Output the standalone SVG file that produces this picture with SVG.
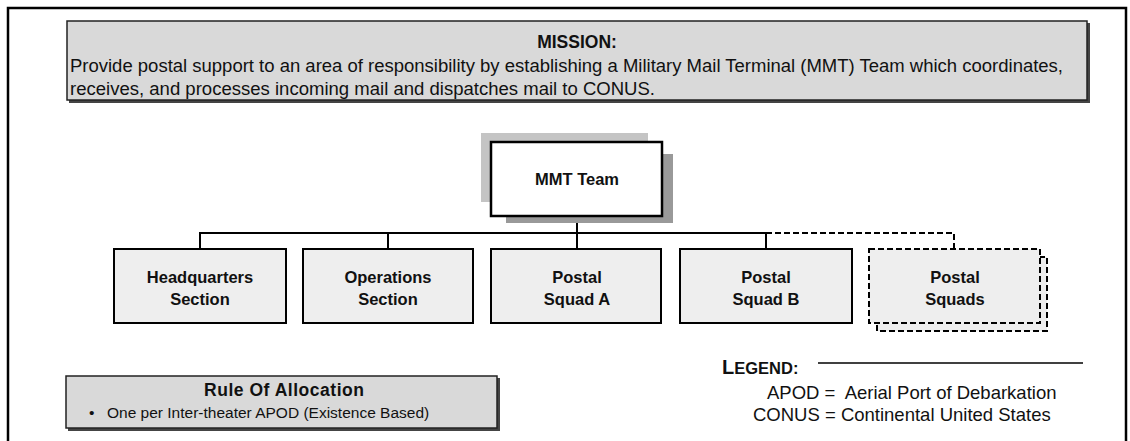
<svg xmlns="http://www.w3.org/2000/svg" width="1130" height="441" viewBox="0 0 1130 441">
<style>
.frame{fill:none;stroke:#000;stroke-width:2.5}
.box{fill:#eeeeee;stroke:#000;stroke-width:2}
.dbox{fill:#eeeeee;stroke:#000;stroke-width:2;stroke-dasharray:6,3}
.panel{fill:#d9d9d9;stroke:#222;stroke-width:1.5}
.shadow{fill:#444}
.lbl{font-family:"Liberation Sans",Arial,sans-serif;font-weight:bold;fill:#111;text-anchor:middle;font-size:16.5px}
.txt{font-family:"Liberation Sans",Arial,sans-serif;fill:#111}
.line{stroke:#000;stroke-width:2;fill:none}
.dline{stroke:#000;stroke-width:2;fill:none;stroke-dasharray:6,3}
</style>
<rect width="1130" height="441" fill="#fff"/>
<rect class="frame" x="8" y="8" width="1118" height="460"/>

<g id="mission">
  <rect class="shadow" x="69" y="23" width="1021" height="80"/>
  <rect class="panel" x="67" y="21" width="1020" height="79"/>
  <text class="lbl" x="577" y="48" style="font-size:17.5px">MISSION:</text>
  <text class="txt" x="70" y="72" style="font-size:18.3px" textLength="993" lengthAdjust="spacingAndGlyphs">Provide postal support to an area of responsibility by establishing a Military Mail Terminal (MMT) Team which coordinates,</text>
  <text class="txt" x="70" y="95" style="font-size:18.3px" textLength="585" lengthAdjust="spacingAndGlyphs">receives, and processes incoming mail and dispatches mail to CONUS.</text>
</g>

<g id="connectors">
  <line class="line" x1="577" y1="216" x2="577" y2="233"/>
  <polyline class="line" points="200,249 200,233 766,233 766,249"/>
  <line class="line" x1="388" y1="233" x2="388" y2="249"/>
  <line class="line" x1="577" y1="233" x2="577" y2="249"/>
  <polyline class="dline" points="766,233 954,233 954,249"/>
</g>

<g id="mmt-team">
  <rect x="481" y="133" width="167" height="69" fill="#c4c4c4"/>
  <rect x="506" y="154" width="167" height="69" fill="#999"/>
  <rect x="491" y="142" width="171" height="74" fill="#fff" stroke="#000" stroke-width="2.5"/>
  <text class="lbl" x="577" y="185">MMT Team</text>
</g>

<g id="hq">
  <rect class="box" x="114" y="249" width="172" height="74"/>
  <text class="lbl" x="200" y="283">Headquarters</text>
  <text class="lbl" x="200" y="305">Section</text>
</g>
<g id="ops">
  <rect class="box" x="303" y="249" width="170" height="74"/>
  <text class="lbl" x="388" y="283">Operations</text>
  <text class="lbl" x="388" y="305">Section</text>
</g>
<g id="squad-a">
  <rect class="box" x="491" y="249" width="170" height="74"/>
  <text class="lbl" x="577" y="283">Postal</text>
  <text class="lbl" x="577" y="305">Squad A</text>
</g>
<g id="squad-b">
  <rect class="box" x="680" y="249" width="172" height="74"/>
  <text class="lbl" x="766" y="283">Postal</text>
  <text class="lbl" x="766" y="305">Squad B</text>
</g>
<g id="squads">
  <rect class="dbox" x="877" y="257" width="170" height="74"/>
  <rect class="dbox" x="869" y="249" width="171" height="74"/>
  <text class="lbl" x="955" y="283">Postal</text>
  <text class="lbl" x="955" y="305">Squads</text>
</g>

<g id="rule">
  <rect class="shadow" x="68" y="378" width="432" height="53"/>
  <rect class="panel" x="66" y="376" width="431" height="52"/>
  <text class="lbl" x="284" y="396" style="font-size:17.5px" textLength="160" lengthAdjust="spacing">Rule Of Allocation</text>
  <text class="txt" x="89" y="418" style="font-size:15.5px">•</text>
  <text class="txt" x="107" y="418" style="font-size:15.5px">One per Inter-theater APOD (Existence Based)</text>
</g>

<g id="legend">
  <text x="722" y="374" style="font-family:'Liberation Sans',Arial,sans-serif;font-weight:bold" fill="#111"><tspan style="font-size:20px">L</tspan><tspan style="font-size:16.5px">EGEND:</tspan></text>
  <line x1="818" y1="363" x2="1083" y2="363" stroke="#000" stroke-width="1.5"/>
  <text class="txt" x="767" y="399" style="font-size:18.5px" xml:space="preserve">APOD =  Aerial Port of Debarkation</text>
  <text class="txt" x="753" y="421" style="font-size:18.5px">CONUS = Continental United States</text>
</g>
</svg>
